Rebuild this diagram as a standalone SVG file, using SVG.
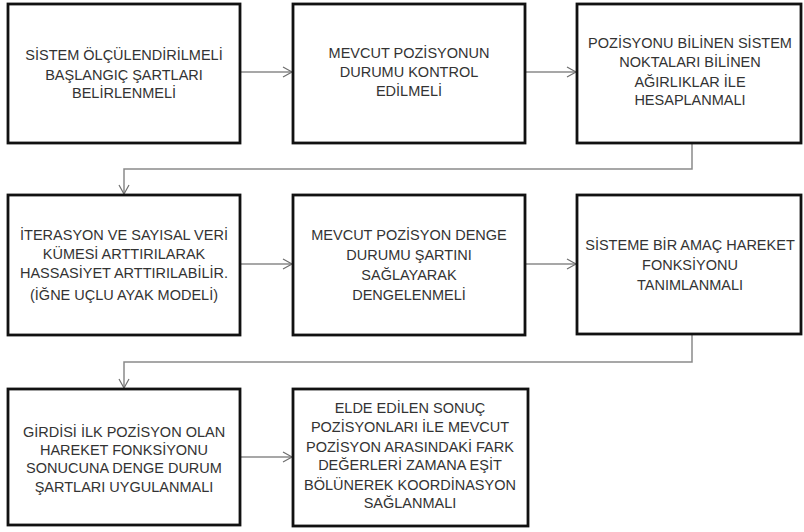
<svg xmlns="http://www.w3.org/2000/svg" width="804" height="532" viewBox="0 0 804 532">
<defs>
<marker id="arr" markerWidth="12" markerHeight="12" refX="10" refY="6" orient="auto" markerUnits="userSpaceOnUse">
<path d="M1,1 L10,6 L1,11" fill="none" stroke="#6f6f6f" stroke-width="1.2"/>
</marker>
<style>
.box{fill:#fff;stroke:#111;stroke-width:2.8}
.t{font-family:"Liberation Sans",Arial,sans-serif;font-size:14.5px;fill:#333;text-anchor:middle}
.c{fill:none;stroke:#8a8a8a;stroke-width:1.5}
</style>
</defs>
<rect width="804" height="532" fill="#fff"/>
<g id="connectors">
<path class="c" d="M240,72 H292" marker-end="url(#arr)"/>
<path class="c" d="M525,72 H576" marker-end="url(#arr)"/>
<path class="c" d="M692,143 V169 H124 V194" marker-end="url(#arr)"/>
<path class="c" d="M240,264 H292" marker-end="url(#arr)"/>
<path class="c" d="M525,264 H576" marker-end="url(#arr)"/>
<path class="c" d="M692,335 V362 H124 V388" marker-end="url(#arr)"/>
<path class="c" d="M240,457 H292" marker-end="url(#arr)"/>
</g>
<g id="n1">
<rect class="box" x="8" y="4" width="232" height="139"/>
<text class="t" x="124" y="60">SİSTEM ÖLÇÜLENDİRİLMELİ</text>
<text class="t" x="124" y="80">BAŞLANGIÇ ŞARTLARI</text>
<text class="t" x="124" y="98">BELİRLENMELİ</text>
</g>
<g id="n2">
<rect class="box" x="293" y="4" width="232" height="139"/>
<text class="t" x="409" y="58">MEVCUT POZİSYONUN</text>
<text class="t" x="409" y="77">DURUMU KONTROL</text>
<text class="t" x="409" y="96">EDİLMELİ</text>
</g>
<g id="n3">
<rect class="box" x="577" y="4" width="224" height="139"/>
<text class="t" x="690" y="48">POZİSYONU BİLİNEN SİSTEM</text>
<text class="t" x="690" y="67">NOKTALARI BİLİNEN</text>
<text class="t" x="690" y="87">AĞIRLIKLAR İLE</text>
<text class="t" x="690" y="105">HESAPLANMALI</text>
</g>
<g id="n4">
<rect class="box" x="8" y="195" width="232" height="140"/>
<text class="t" x="124" y="240">İTERASYON VE SAYISAL VERİ</text>
<text class="t" x="124" y="259">KÜMESİ ARTTIRILARAK</text>
<text class="t" x="124" y="278">HASSASİYET ARTTIRILABİLİR.</text>
<text class="t" x="124" y="300">(İĞNE UÇLU AYAK MODELİ)</text>
</g>
<g id="n5">
<rect class="box" x="293" y="195" width="232" height="140"/>
<text class="t" x="409" y="240">MEVCUT POZİSYON DENGE</text>
<text class="t" x="409" y="260">DURUMU ŞARTINI</text>
<text class="t" x="409" y="280">SAĞLAYARAK</text>
<text class="t" x="409" y="300">DENGELENMELİ</text>
</g>
<g id="n6">
<rect class="box" x="577" y="195" width="224" height="139"/>
<text class="t" x="690" y="250">SİSTEME BİR AMAÇ HAREKET</text>
<text class="t" x="690" y="270">FONKSİYONU</text>
<text class="t" x="690" y="290">TANIMLANMALI</text>
</g>
<g id="n7">
<rect class="box" x="8" y="389" width="232" height="136"/>
<text class="t" x="124" y="437">GİRDİSİ İLK POZİSYON OLAN</text>
<text class="t" x="124" y="455">HAREKET FONKSİYONU</text>
<text class="t" x="124" y="473">SONUCUNA DENGE DURUM</text>
<text class="t" x="124" y="492">ŞARTLARI UYGULANMALI</text>
</g>
<g id="n8">
<rect class="box" x="293" y="389" width="235" height="137"/>
<text class="t" x="410" y="413">ELDE EDİLEN SONUÇ</text>
<text class="t" x="410" y="432">POZİSYONLARI İLE MEVCUT</text>
<text class="t" x="410" y="452">POZİSYON ARASINDAKİ FARK</text>
<text class="t" x="410" y="470">DEĞERLERİ ZAMANA EŞİT</text>
<text class="t" x="410" y="490">BÖLÜNEREK KOORDİNASYON</text>
<text class="t" x="410" y="508">SAĞLANMALI</text>
</g>
</svg>
